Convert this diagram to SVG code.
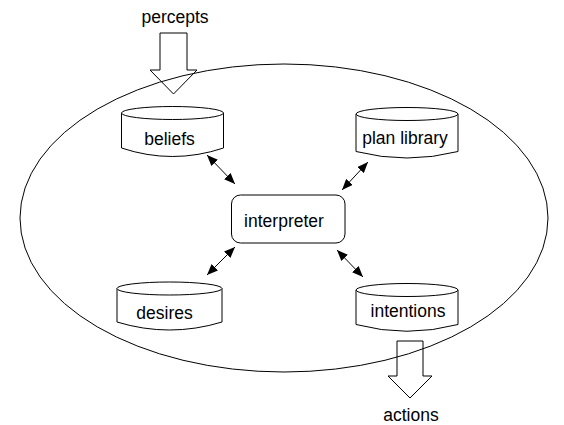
<svg xmlns="http://www.w3.org/2000/svg" width="564" height="425" viewBox="0 0 564 425">
<style>
.s{fill:none;stroke:#000;stroke-width:1}
.cyl{fill:#fff;stroke:#000;stroke-width:1}
.t{font-family:"Liberation Sans",Arial,sans-serif;font-size:17.5px;fill:#000;text-anchor:middle}
.c{stroke:#000;stroke-width:1;fill:none;marker-start:url(#ah);marker-end:url(#ah)}
</style>
<defs>
<marker id="ah" markerUnits="userSpaceOnUse" markerWidth="11" markerHeight="9" refX="11" refY="4.5" orient="auto-start-reverse" viewBox="0 0 11 9">
<path d="M0,0 L11,4.5 L0,9 z" fill="#000"/>
</marker>
</defs>
<rect width="564" height="425" fill="#fff"/>
<ellipse id="agent" class="s" cx="284" cy="218" rx="264" ry="154"/>
<g id="percepts">
<polygon class="s" points="160,33 187,33 187,70 197,70 173.5,94 150,70 160,70"/>
<text class="t" x="175" y="23">percepts</text>
</g>
<g id="actions">
<polygon class="s" points="397,341 423,341 423,376 432,376 410,398 388,376 397,376"/>
<text class="t" x="411" y="421">actions</text>
</g>
<g id="beliefs">
<path class="cyl" d="M121.5,113 L121.5,148 Q172.5,165 223.5,148 L223.5,113 Z"/>
<ellipse class="cyl" cx="172.5" cy="113" rx="51" ry="6.5"/>
<text class="t" x="169.5" y="145">beliefs</text>
</g>
<g id="plan-library">
<path class="cyl" d="M356,114 L356,151.5 Q407,164.5 458,151.5 L458,114 Z"/>
<ellipse class="cyl" cx="407" cy="114" rx="51" ry="6.5"/>
<text class="t" x="405" y="143.5">plan library</text>
</g>
<g id="desires">
<path class="cyl" d="M117,288.5 L117,322 Q169.5,338 222,322 L222,288.5 Z"/>
<ellipse class="cyl" cx="169.5" cy="288.5" rx="52.5" ry="6.5"/>
<text class="t" x="164.5" y="319">desires</text>
</g>
<g id="intentions">
<path class="cyl" d="M356,290 L356,324.5 Q407,338 458,324.5 L458,290 Z"/>
<ellipse class="cyl" cx="407" cy="290" rx="51" ry="6.5"/>
<text class="t" x="408" y="317">intentions</text>
</g>
<g id="interpreter">
<rect class="cyl" x="231.5" y="195" width="113.5" height="48" rx="9" ry="9"/>
<text class="t" x="284" y="226.5">interpreter</text>
</g>
<g id="connectors">
<line class="c" x1="207" y1="155" x2="235" y2="184"/>
<line class="c" x1="368" y1="162" x2="342" y2="190"/>
<line class="c" x1="235" y1="247" x2="207" y2="275"/>
<line class="c" x1="337" y1="250" x2="363" y2="277"/>
</g>
</svg>
